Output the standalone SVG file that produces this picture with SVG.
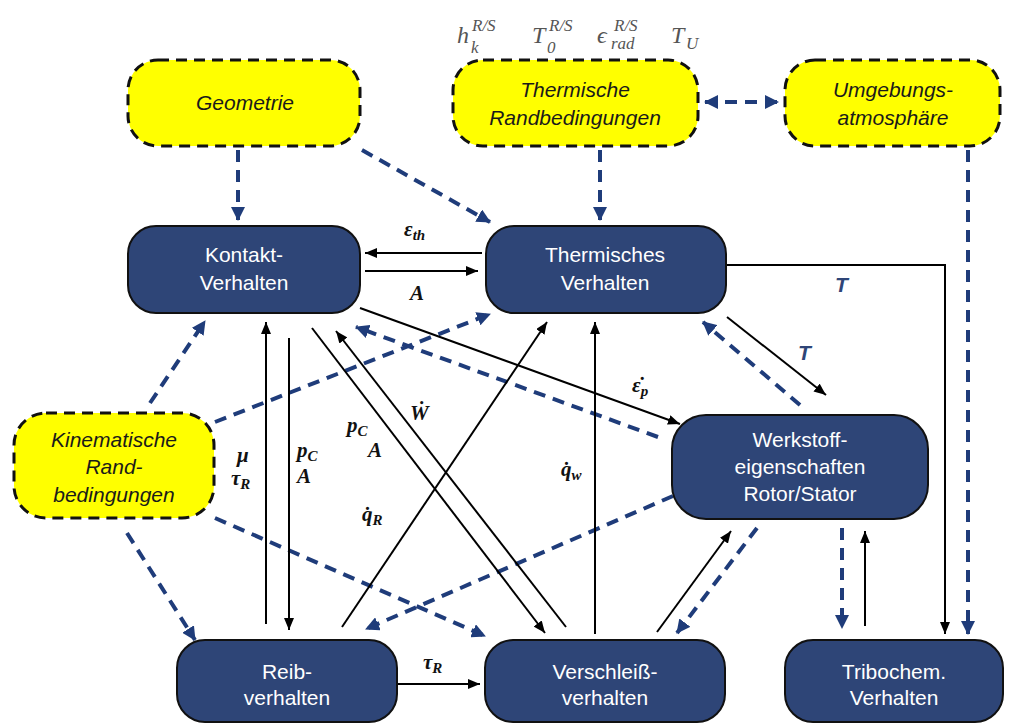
<svg xmlns="http://www.w3.org/2000/svg" width="1016" height="727" viewBox="0 0 1016 727">
<style>
.yel{fill:#FFFF00;stroke:#111;stroke-width:3;stroke-dasharray:11 7}
.blu{fill:#2E4577;stroke:#111;stroke-width:2}
.ty{font-family:"Liberation Sans",Arial,sans-serif;font-size:21px;font-style:italic;fill:#1a1a1a;text-anchor:middle}
.tb{font-family:"Liberation Sans",Arial,sans-serif;font-size:21px;fill:#fff;text-anchor:middle}
.dash{fill:none;stroke:#1F3C7A;stroke-width:4;stroke-dasharray:12 8}
.sol{fill:none;stroke:#000;stroke-width:2}
.m{font-family:"Liberation Serif","Times New Roman",serif;font-size:21px;font-style:italic;font-weight:bold;fill:#111}
.g{font-family:"Liberation Serif","Times New Roman",serif;font-size:24px;font-style:italic;fill:#555}
.gs{font-family:"Liberation Serif","Times New Roman",serif;font-size:17px;font-style:italic;fill:#555}
.T{font-family:"Liberation Sans",Arial,sans-serif;font-size:21px;font-style:italic;font-weight:bold;fill:#2E4577}
</style>
<defs>
<marker id="ab" viewBox="0 0 12 10" refX="12" refY="5" markerWidth="12" markerHeight="10" markerUnits="userSpaceOnUse" orient="auto-start-reverse"><path d="M0,0 L12,5 L0,10 Z" fill="#000"/></marker>
<marker id="au" viewBox="0 0 14 14" refX="13" refY="7" markerWidth="14" markerHeight="14" markerUnits="userSpaceOnUse" orient="auto-start-reverse"><path d="M0,0 L14,7 L0,14 Z" fill="#1F3C7A"/></marker>
</defs>

<g id="connectors">
<path class="dash" d="M238,150 L238,220" marker-end="url(#au)"/>
<path class="dash" d="M362,150 L490,222" marker-end="url(#au)"/>
<path class="dash" d="M600,150 L600,220" marker-end="url(#au)"/>
<path class="dash" d="M705,102 L778,102" marker-start="url(#au)" marker-end="url(#au)"/>
<path class="dash" d="M968,150 L968,634" marker-end="url(#au)"/>
<path class="dash" d="M150,403 L205,321" marker-end="url(#au)"/>
<path class="dash" d="M215,422 L490,314" marker-end="url(#au)"/>
<path class="dash" d="M127,533 L195,640" marker-end="url(#au)"/>
<path class="dash" d="M215,518 L485,636" marker-end="url(#au)"/>
<path class="dash" d="M658,437 L356,327" marker-end="url(#au)"/>
<path class="dash" d="M673,496 L366,629" marker-end="url(#au)"/>
<path class="dash" d="M800,405 L703,322" marker-end="url(#au)"/>
<path class="dash" d="M757,528 L677,633" marker-end="url(#au)"/>
<path class="dash" d="M842,528 L842,628" marker-end="url(#au)"/>

<path class="sol" d="M482,253 L365,253" marker-end="url(#ab)"/>
<path class="sol" d="M365,271 L478,271" marker-end="url(#ab)"/>
<path class="sol" d="M727,265 L945,265 L945,634" marker-end="url(#ab)"/>
<path class="sol" d="M727,317 L826,395" marker-end="url(#ab)"/>
<path class="sol" d="M266,624 L266,322" marker-end="url(#ab)"/>
<path class="sol" d="M289,338 L289,630" marker-end="url(#ab)"/>
<path class="sol" d="M312,328 L545,633" marker-end="url(#ab)"/>
<path class="sol" d="M566,627 L336,331" marker-end="url(#ab)"/>
<path class="sol" d="M342,627 L547,322" marker-end="url(#ab)"/>
<path class="sol" d="M595,634 L595,322" marker-end="url(#ab)"/>
<path class="sol" d="M360,308 L680,424" marker-end="url(#ab)"/>
<path class="sol" d="M398,684 L480,684" marker-end="url(#ab)"/>
<path class="sol" d="M657,632 L731,531" marker-end="url(#ab)"/>
<path class="sol" d="M865,626 L865,531" marker-end="url(#ab)"/>

<text class="m" x="404" y="236">ε<tspan font-size="15" dy="4">th</tspan></text>
<text class="m" x="410" y="300">A</text>
<text class="T" x="835" y="292">T</text>
<text class="T" x="798" y="360">T</text>
<text class="m" x="237" y="462">μ</text>
<text class="m" x="231" y="485">τ<tspan font-size="15" dy="4">R</tspan></text>
<text class="m" x="297" y="457">p<tspan font-size="15" dy="4">C</tspan></text>
<text class="m" x="297" y="483">A</text>
<text class="m" x="347" y="432">p<tspan font-size="15" dy="4">C</tspan></text>
<text class="m" x="368" y="457">A</text>
<text class="m" x="410" y="420">Ẇ</text>
<text class="m" x="362" y="521">q̇<tspan font-size="15" dy="4">R</tspan></text>
<text class="m" x="561" y="476">q̇<tspan font-size="15" dy="4">w</tspan></text>
<text class="m" x="632" y="392">ε̇<tspan font-size="15" dy="4">p</tspan></text>
<text class="m" x="423" y="669">τ<tspan font-size="15" dy="4">R</tspan></text>

<text class="g" x="457" y="43">h</text><text class="gs" x="472" y="31">R/S</text><text class="gs" x="471" y="53">k</text>
<text class="g" x="532" y="43">T</text><text class="gs" x="549" y="31">R/S</text><text class="gs" x="547" y="53">0</text>
<text class="g" x="597" y="43">ϵ</text><text class="gs" x="614" y="31">R/S</text><text class="gs" x="611" y="49">rad</text>
<text class="g" x="671" y="43">T</text><text class="gs" x="686" y="49">U</text>
</g>

<g id="geometrie"><rect class="yel" x="128" y="60" width="232" height="86" rx="30"/><text class="ty" x="245" y="110">Geometrie</text></g>
<g id="thermische-rb"><rect class="yel" x="453" y="60" width="245" height="86" rx="30"/><text class="ty" x="575" y="97">Thermische</text><text class="ty" x="575" y="125">Randbedingungen</text></g>
<g id="umgebung"><rect class="yel" x="785" y="60" width="215" height="86" rx="30"/><text class="ty" x="893" y="97">Umgebungs-</text><text class="ty" x="893" y="125">atmosphäre</text></g>
<g id="kinematische"><rect class="yel" x="14" y="413" width="200" height="105" rx="32"/><text class="ty" x="114" y="447">Kinematische</text><text class="ty" x="114" y="474">Rand-</text><text class="ty" x="114" y="502">bedingungen</text></g>

<g id="kontakt"><rect class="blu" x="128" y="226" width="232" height="87" rx="28"/><text class="tb" x="244" y="262">Kontakt-</text><text class="tb" x="244" y="290">Verhalten</text></g>
<g id="thermisches"><rect class="blu" x="486" y="226" width="240" height="87" rx="28"/><text class="tb" x="605" y="262">Thermisches</text><text class="tb" x="605" y="290">Verhalten</text></g>
<g id="werkstoff"><rect class="blu" x="672" y="415" width="256" height="104" rx="34"/><text class="tb" x="800" y="447">Werkstoff-</text><text class="tb" x="800" y="474">eigenschaften</text><text class="tb" x="800" y="501">Rotor/Stator</text></g>
<g id="reib"><rect class="blu" x="177" y="640" width="220" height="82" rx="28"/><text class="tb" x="287" y="679">Reib-</text><text class="tb" x="287" y="705">verhalten</text></g>
<g id="verschleiss"><rect class="blu" x="485" y="640" width="240" height="82" rx="28"/><text class="tb" x="605" y="679">Verschleiß-</text><text class="tb" x="605" y="705">verhalten</text></g>
<g id="tribochem"><rect class="blu" x="785" y="640" width="218" height="82" rx="28"/><text class="tb" x="894" y="679">Tribochem.</text><text class="tb" x="894" y="705">Verhalten</text></g>
</svg>
